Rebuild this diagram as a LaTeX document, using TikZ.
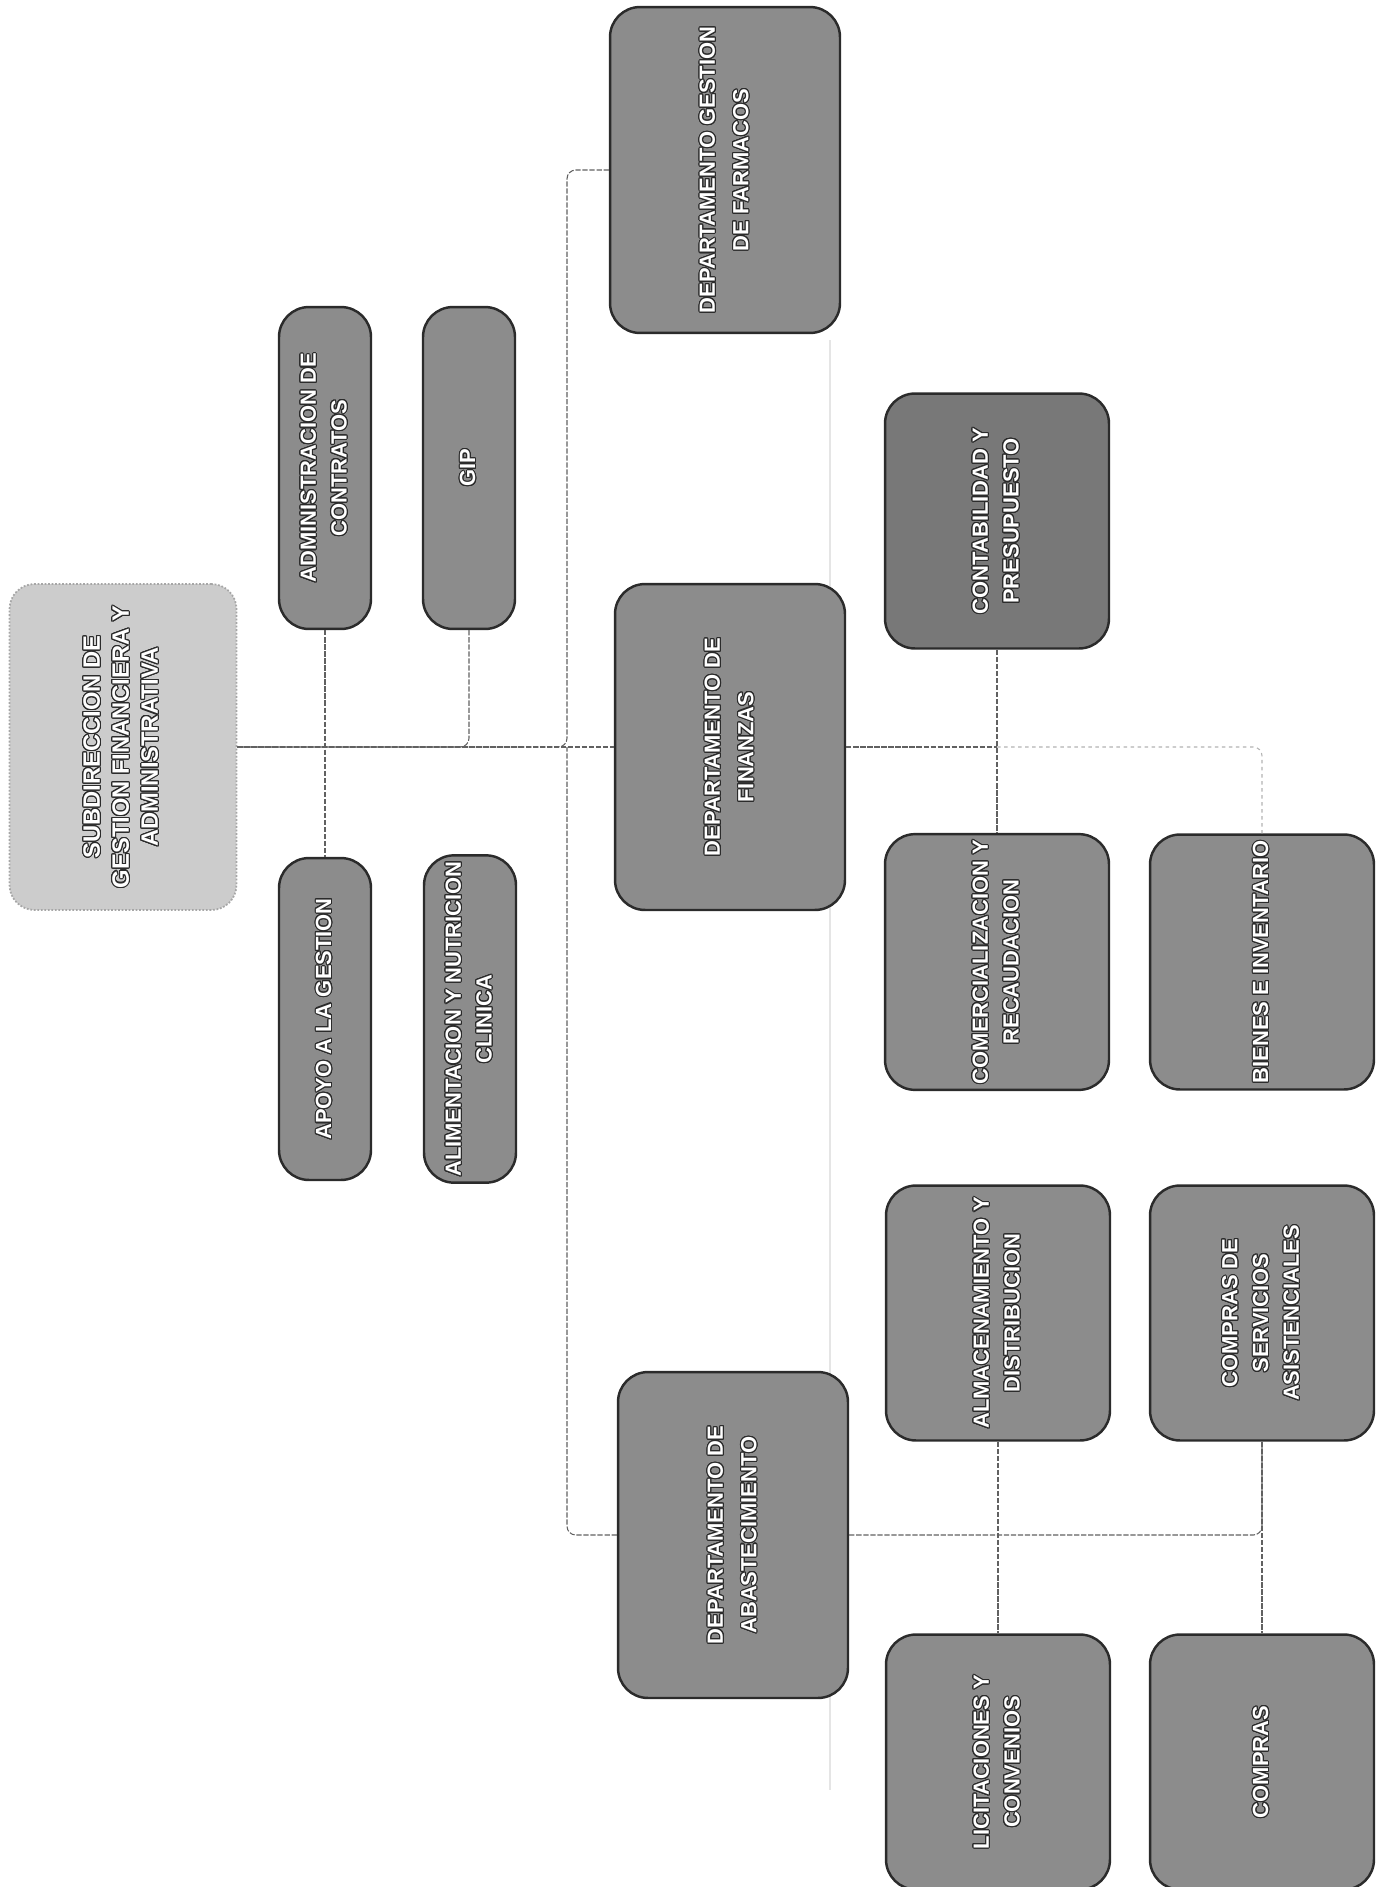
\documentclass[tikz,border=0pt]{standalone}
\usepackage{fontspec}
\setmainfont{Liberation Sans}
\usepackage[copies]{contour}
\usepackage{graphicx}
\contourlength{0.6pt}
\contournumber{20}
\definecolor{kasten}{gray}{0.55}
\definecolor{dunkel}{gray}{0.47}
\definecolor{kante}{gray}{0.17}
\definecolor{hell}{gray}{0.80}
\definecolor{linie}{gray}{0.38}
\newcommand{\hoch}[1]{\rotatebox{90}{\begin{tabular}{@{}c@{}}#1\end{tabular}}}
\newcommand{\zl}[1]{\contour{kante}{#1}}

\begin{document}
\begin{tikzpicture}[x=0.02cm, y=-0.02cm,
    caja/.style={draw=kante, line width=1.4pt, fill=kasten, rounded corners=0.6cm, text=white,
      font=\fontsize{12.5}{17.5}\selectfont\bfseries},
    jefe/.style={draw=black!35, densely dotted, line width=1pt, fill=hell, rounded corners=0.5cm, text=white,
      minimum width=4.54cm, minimum height=6.52cm, font=\fontsize{13.5}{16.5}\selectfont\bfseries},
    angosta/.style={caja, minimum width=1.84cm, minimum height=6.44cm},
    depto/.style={caja, minimum width=4.6cm, minimum height=6.52cm, font=\fontsize{12.5}{19}\selectfont\bfseries},
    unidad/.style={caja, minimum width=4.48cm, minimum height=5.1cm},
    enlace/.style={draw=linie, line width=0.6pt, dash pattern=on 3pt off 1pt},
    tenue/.style={draw=black!30, line width=0.6pt, dash pattern=on 2pt off 2pt}]
  \useasboundingbox (0,0) rectangle (1388,1887);
  % Knick im Papier:
  \draw[black!10, line width=1.2pt] (830,340) -- (830,1790);
  % oberste Ebene:
  \node[jefe] (sub) at (123,747) {\hoch{\zl{SUBDIRECCION DE}\\\zl{GESTION FINANCIERA Y}\\\zl{ADMINISTRATIVA}}};
  % Stabsstellen:
  \node[angosta] (contratos) at (325,468) {\hoch{\zl{ADMINISTRACION DE}\\\zl{CONTRATOS}}};
  \node[angosta] (gip) at (469,468) {\hoch{\zl{GIP}}};
  \node[angosta] (apoyo) at (325,1019) {\hoch{\zl{APOYO A LA GESTION}}};
  \node[angosta] (alimentacion) at (470,1019) {\hoch{\zl{ALIMENTACION Y NUTRICION}\\\zl{CLINICA}}};
  % Abteilungen:
  \node[depto] (farmacos) at (725,170) {\hoch{\zl{DEPARTAMENTO GESTION}\\\zl{DE FARMACOS}}};
  \node[depto] (finanzas) at (730,747) {\hoch{\zl{DEPARTAMENTO DE}\\\zl{FINANZAS}}};
  \node[depto] (abastecimiento) at (733,1535) {\hoch{\zl{DEPARTAMENTO DE}\\\zl{ABASTECIMIENTO}}};
  % Einheiten Finanzen:
  \node[unidad, fill=dunkel] (contabilidad) at (997,521) {\hoch{\zl{CONTABILIDAD Y}\\\zl{PRESUPUESTO}}};
  \node[unidad] (comercializacion) at (997,962) {\hoch{\zl{COMERCIALIZACION Y}\\\zl{RECAUDACION}}};
  \node[unidad] (bienes) at (1262,962) {\hoch{\zl{BIENES E INVENTARIO}}};
  % Einheiten Abastecimiento:
  \node[unidad] (almacenamiento) at (998,1313) {\hoch{\zl{ALMACENAMIENTO Y}\\\zl{DISTRIBUCION}}};
  \node[unidad] (servicios) at (1262,1313) {\hoch{\zl{COMPRAS DE}\\\zl{SERVICIOS}\\\zl{ASISTENCIALES}}};
  \node[unidad] (licitaciones) at (998,1762) {\hoch{\zl{LICITACIONES Y}\\\zl{CONVENIOS}}};
  \node[unidad] (compras) at (1262,1762) {\hoch{\zl{COMPRAS}}};
  % Verbindungen:
  \coordinate (bus) at (567,747);
  \draw[enlace] (sub.east) -- (finanzas.west);
  \draw[enlace] (contratos.south) -- (apoyo.north);
  \draw[enlace, rounded corners=5pt] (gip.south) |- (sub.east);
  \draw[enlace, rounded corners=5pt] (farmacos.west) -| (bus) -- (sub.east);
  \draw[enlace, rounded corners=5pt] (abastecimiento.west) -| (bus);
  \draw[enlace] (finanzas.east) -- (contabilidad.south |- finanzas.east);
  \draw[enlace] (contabilidad.south) -- (comercializacion.north);
  \draw[tenue, rounded corners=5pt] (contabilidad.south |- finanzas.east) -| (bienes.north);
  \draw[enlace, rounded corners=5pt] (abastecimiento.east) -| (servicios.south);
  \draw[enlace] (servicios.south) -- (compras.north);
  \draw[enlace] (almacenamiento.south) -- (licitaciones.north);
\end{tikzpicture}
\end{document}
